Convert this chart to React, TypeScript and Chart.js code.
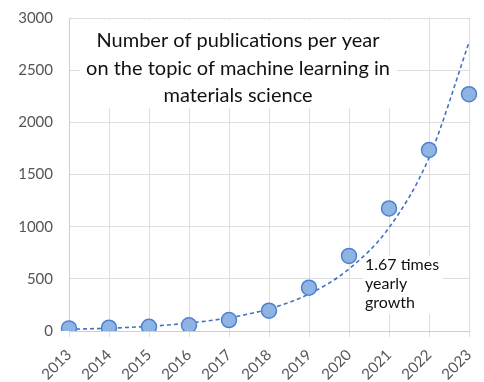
import React, { useEffect, useRef } from "react";
import { Chart, registerables } from "chart.js";

Chart.register(...registerables);

const years = ["2013", "2014", "2015", "2016", "2017", "2018", "2019", "2020", "2021", "2022", "2023"];
const publications = [25, 32, 40, 55, 105, 195, 415, 720, 1175, 1735, 2270];
const trend = [16, 27, 45, 76, 127, 212, 354, 595, 990, 1660, 2765];
const yTicks = [0, 500, 1000, 1500, 2000, 2500, 3000];
const titleLines = ["Number of publications per year", "on the topic of machine learning in", "materials science"];
const noteLines = ["1.67 times", "yearly", "growth"];

const FONT = "Lato, 'Noto Sans', sans-serif";

const overlayPlugin = {
  id: "overlay",
  beforeDatasetsDraw(chart: any) {
    const ctx = chart.ctx;
    ctx.save();
    // title box
    ctx.fillStyle = "#ffffff";
    ctx.fillRect(80, 20, 317, 88);
    ctx.fillStyle = "#111111";
    ctx.font = `20px ${FONT}`;
    ctx.textAlign = "center";
    ctx.textBaseline = "alphabetic";
    titleLines.forEach((t, i) => ctx.fillText(t, 238, 47 + i * 27.5));
    // annotation box
    ctx.fillStyle = "#ffffff";
    ctx.fillRect(363, 256, 80, 58);
    ctx.fillStyle = "#111111";
    ctx.font = `16px ${FONT}`;
    ctx.textAlign = "left";
    noteLines.forEach((t, i) => ctx.fillText(t, 365, 270 + i * 19));
    ctx.restore();
  },
};

export default function App() {
  const ref = useRef<HTMLCanvasElement | null>(null);
  useEffect(() => {
    document.body.style.margin = "0";
    const chart = new Chart(ref.current as HTMLCanvasElement, {
      type: "line",
      data: {
        labels: years,
        datasets: [
          {
            label: "Publications",
            data: publications,
            showLine: false,
            pointRadius: 7.5,
            pointHoverRadius: 7.5,
            pointBackgroundColor: "#8db4e2",
            pointBorderColor: "#4f81d0",
            pointBorderWidth: 1.5,
            order: 0,
          },
          {
            label: "Trend",
            data: trend,
            borderColor: "#4472c4",
            borderWidth: 1.6,
            borderDash: [4, 3],
            pointRadius: 0,
            cubicInterpolationMode: "monotone",
            fill: false,
            order: 1,
          },
        ],
      },
      options: {
        responsive: false,
        animation: false,
        layout: { padding: { top: 18, right: 15, left: 0, bottom: 0 } },
        plugins: { legend: { display: false }, tooltip: { enabled: false } },
        scales: {
          x: {
            type: "category",
            offset: false,
            grid: { color: "#dedede", lineWidth: 1, tickLength: 6, drawTicks: true },
            border: { color: "#cfcfcf" },
            ticks: {
              color: "#555555",
              font: { family: FONT, size: 15 },
              maxRotation: 45,
              minRotation: 45,
              padding: 9,
            },
            afterFit(scale: any) {
              scale.height = 51;
              scale.paddingLeft = 0;
              scale.paddingRight = 0;
            },
          },
          y: {
            min: 0,
            max: 3000,
            afterBuildTicks(scale: any) {
              scale.ticks = yTicks.map((v) => ({ value: v }));
            },
            grid: { color: "#dedede", lineWidth: 1, drawTicks: false },
            border: { color: "#cfcfcf" },
            ticks: {
              color: "#555555",
              font: { family: FONT, size: 15 },
              padding: 16,
              callback: (v: any) => String(v),
            },
            afterFit(scale: any) {
              scale.width = 69;
              scale.paddingTop = 0;
              scale.paddingBottom = 0;
            },
          },
        },
      },
      plugins: [overlayPlugin],
    } as any);
    return () => chart.destroy();
  }, []);
  return (
    <div style={{ width: 484, height: 382 }}>
      <canvas ref={ref} width={484} height={382} />
    </div>
  );
}
